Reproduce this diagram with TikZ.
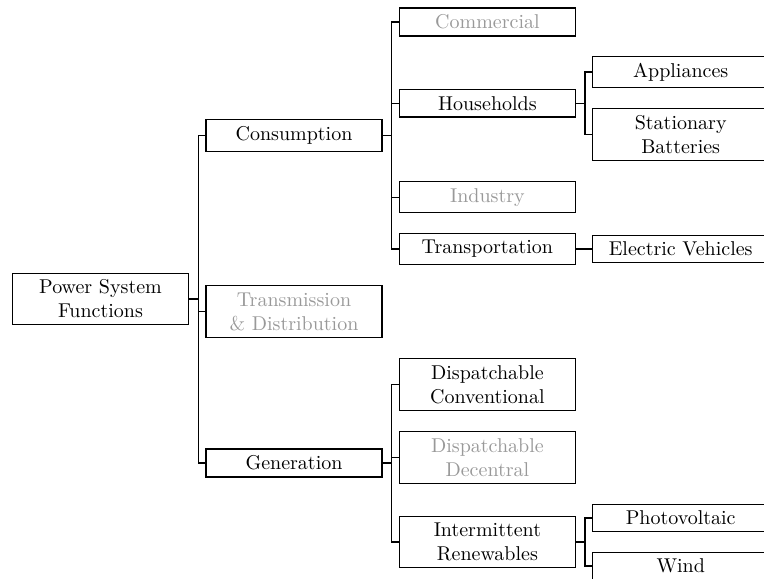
\documentclass[tikz,border=0pt]{standalone}
\usepackage{xcolor}
\usepackage{tikz}

\tikzset{
  fn/.style={draw,semithick,minimum width=88pt,align=center},
  fnoff/.style={fn,text=black!40},
  edge/.style={semithick},
}

\begin{document}
\begin{tikzpicture}[x=0.5pt,y=-0.5pt]
  \useasboundingbox (0,0) rectangle (764,578);
  \clip (0,0) rectangle (764,578);
  % level 1 and 2
  \node[fn] (root) at (100.5,299) {Power System\\Functions};
  \node[fn] (cons) at (294,135.5) {Consumption};
  \node[fnoff] (td) at (294,311.5) {Transmission\\\& Distribution};
  \node[fn] (gen) at (294,463) {Generation};
  % consumption side
  \node[fnoff] (comm) at (487.4,22) {Commercial};
  \node[fn] (house) at (487.4,103.3) {Households};
  \node[fnoff] (ind) at (487.4,197.2) {Industry};
  \node[fn] (transp) at (487.4,249) {Transportation};
  \node[fn] (appl) at (680.7,72) {Appliances};
  \node[fn] (batt) at (680.7,134.5) {Stationary\\Batteries};
  \node[fn] (ev) at (680.7,249) {Electric Vehicles};
  % generation side
  \node[fn] (dconv) at (487.4,384.7) {Dispatchable\\Conventional};
  \node[fnoff] (ddec) at (487.4,457.5) {Dispatchable\\Decentral};
  \node[fn] (inter) at (487.4,542) {Intermittent\\Renewables};
  \node[fn] (pv) at (680.7,518) {Photovoltaic};
  \node[fn] (wind) at (680.7,566) {Wind};
  \foreach \p/\c in {root/cons,root/td,root/gen,
      cons/comm,cons/house,cons/ind,cons/transp,
      house/appl,house/batt,transp/ev,
      gen/dconv,gen/ddec,gen/inter,inter/pv,inter/wind}
    \draw[edge] (\p.east) -- ++(9,0) |- (\c.west);
\end{tikzpicture}
\end{document}
